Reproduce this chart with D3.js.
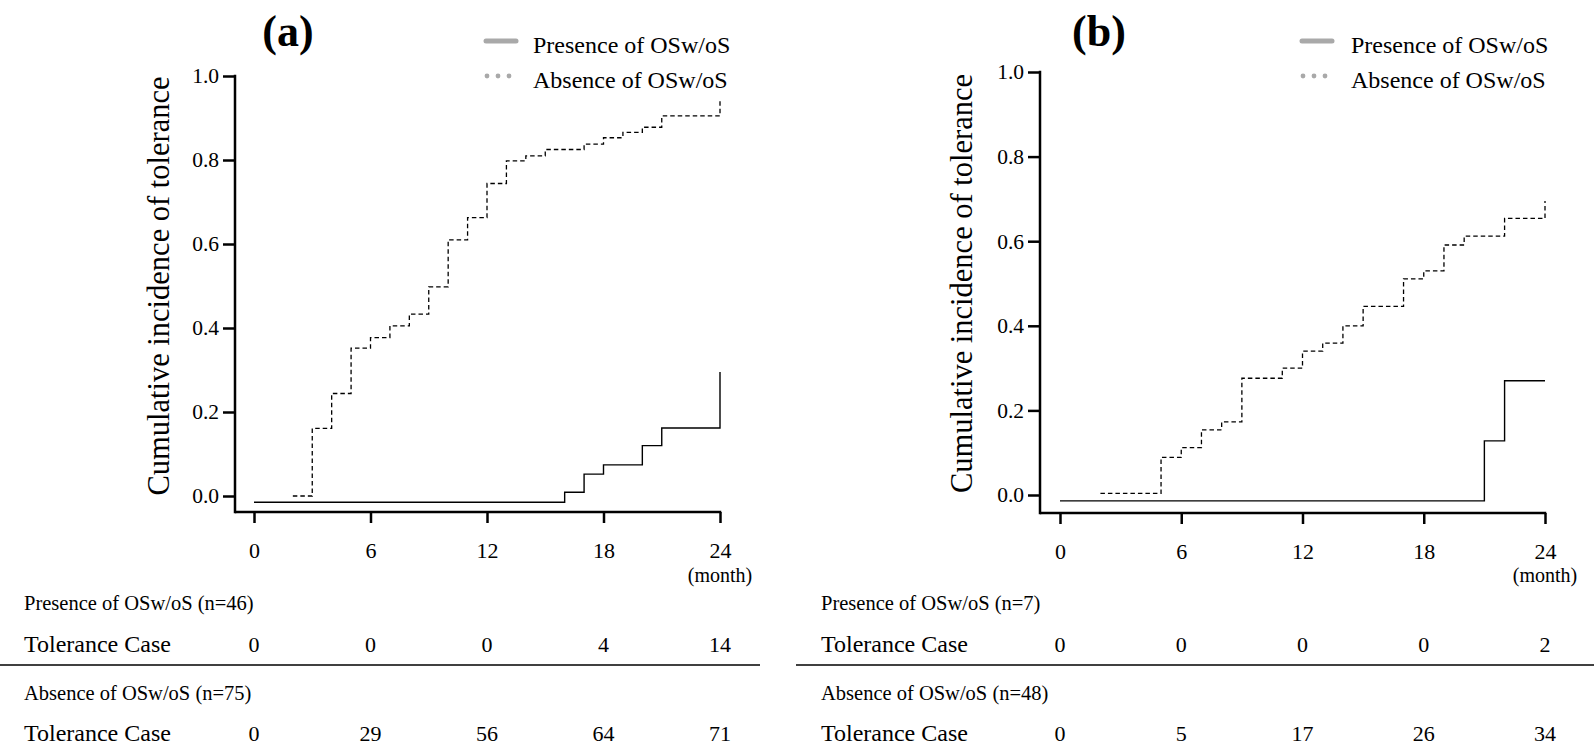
<!DOCTYPE html>
<html><head><meta charset="utf-8">
<script src="https://cdn.jsdelivr.net/npm/d3@7"></script>
<style>
body{margin:0;background:#fff}
svg{display:block}
text{font-family:"Liberation Serif","Times New Roman",serif;fill:#000}
</style>
</head><body>
<svg id="c" width="1594" height="745"></svg>
<script>
// ---------- data ----------
const xTicks = [0, 6, 12, 18, 24];
const yTicks = [0, 0.2, 0.4, 0.6, 0.8, 1.0];
const panelLabels = ["(a)", "(b)"];
const legendLabels = ["Presence of OSw/oS", "Absence of OSw/oS"];
const yTitle = "Cumulative incidence of tolerance";
const rowLabel = "Tolerance Case";
const unitLabel = "(month)";

const aPresT = [0, 16, 17, 18, 20, 21, 24];
const aPresV = [-0.015, 0.009, 0.052, 0.074, 0.120, 0.162, 0.295];
const aAbsT = [2, 3, 4, 5, 6, 7, 8, 9, 10, 11, 12, 13, 14, 15, 17, 18, 19, 20, 21, 24];
const aAbsV = [0, 0.161, 0.244, 0.352, 0.377, 0.405, 0.433, 0.498, 0.610, 0.663, 0.744, 0.798, 0.810, 0.825, 0.838, 0.853, 0.866, 0.878, 0.905, 0.945];

const bPresT = [0, 21, 22, 24];
const bPresV = [-0.014, 0.128, 0.270, 0.270];
const bAbsT = [2, 5, 6, 7, 8, 9, 11, 12, 13, 14, 15, 17, 18, 19, 20, 22, 24];
const bAbsV = [0.004, 0.089, 0.112, 0.154, 0.173, 0.276, 0.300, 0.340, 0.359, 0.400, 0.446, 0.511, 0.530, 0.591, 0.612, 0.654, 0.695];

const aN = [46, 75];
const bN = [7, 48];
const aTablePres = [0, 0, 0, 4, 14];
const aTableAbs = [0, 29, 56, 64, 71];
const bTablePres = [0, 0, 0, 0, 2];
const bTableAbs = [0, 5, 17, 26, 34];

// ---------- layout ----------
const panels = [
  {label: panelLabels[0], presT: aPresT, presV: aPresV, absT: aAbsT, absV: aAbsV, n: aN, tPres: aTablePres, tAbs: aTableAbs,
   axisX: 235, x0: 254, x1: 720, y0: 496, y1: 76, axisY: 512, titleX: 169, labelX: 288,
   legX: 486, legTextX: 533, tableX: 24, lineX0: 0, lineX1: 760},
  {label: panelLabels[1], presT: bPresT, presV: bPresV, absT: bAbsT, absV: bAbsV, n: bN, tPres: bTablePres, tAbs: bTableAbs,
   axisX: 1040, x0: 1060, x1: 1545, y0: 495, y1: 72, axisY: 513, titleX: 972, labelX: 1099,
   legX: 1302, legTextX: 1351, tableX: 821, lineX0: 796, lineX1: 1594}
];

const svg = d3.select("#c");
const legendGray = "#a9a9a9";
const serif = '"Liberation Serif","Times New Roman",serif';

panels.forEach(p => {
  const g = svg.append("g").attr("font-family", serif);
  const x = d3.scaleLinear().domain([0, 24]).range([p.x0, p.x1]);
  const y = d3.scaleLinear().domain([0, 1]).range([p.y0, p.y1]);

  // y axis
  const ya = g.append("g").attr("transform", `translate(${p.axisX},0)`)
    .call(d3.axisLeft(y).tickValues(yTicks).tickFormat(d3.format(".1f")).tickSize(12).tickPadding(4));
  ya.attr("font-family", serif);
  ya.select(".domain").remove();
  ya.selectAll(".tick line").attr("stroke", "#000").attr("stroke-width", 2.5);
  ya.selectAll(".tick text").attr("font-size", 21.5).attr("font-family", serif);
  g.append("line").attr("x1", p.axisX).attr("x2", p.axisX).attr("y1", y(1) - 1.25).attr("y2", p.axisY + 1.25)
    .attr("stroke", "#000").attr("stroke-width", 2.5);

  // x axis
  const xa = g.append("g").attr("transform", `translate(0,${p.axisY})`)
    .call(d3.axisBottom(x).tickValues(xTicks).tickSize(11).tickPadding(19));
  xa.attr("font-family", serif);
  xa.select(".domain").remove();
  xa.selectAll(".tick line").attr("stroke", "#000").attr("stroke-width", 2.5);
  xa.selectAll(".tick text").attr("font-size", 22).attr("font-family", serif);
  g.append("line").attr("x1", p.axisX).attr("x2", x(24) + 1.25).attr("y1", p.axisY).attr("y2", p.axisY)
    .attr("stroke", "#000").attr("stroke-width", 2.5);
  g.append("text").attr("x", x(24)).attr("y", 582).attr("text-anchor", "middle").attr("font-size", 20).text(unitLabel);

  // y title
  g.append("text").attr("transform", `translate(${p.titleX},${(y(0) + y(1)) / 2}) rotate(-90)`)
    .attr("text-anchor", "middle").attr("font-size", 30.5).text(yTitle);

  // panel label
  g.append("text").attr("x", p.labelX).attr("y", 46).attr("text-anchor", "middle")
    .attr("font-size", 44).attr("font-weight", "bold").text(p.label);

  // legend
  g.append("line").attr("x1", p.legX).attr("x2", p.legX + 30).attr("y1", 41).attr("y2", 41)
    .attr("stroke", legendGray).attr("stroke-width", 5).attr("stroke-linecap", "round");
  [0, 1, 2].forEach(i => g.append("circle").attr("cx", p.legX + 1 + i * 11).attr("cy", 76).attr("r", 2.4).attr("fill", legendGray));
  legendLabels.forEach((t, i) => g.append("text").attr("x", p.legTextX).attr("y", 53 + i * 35).attr("font-size", 24).text(t));

  // curves
  const line = d3.line().x(d => x(d[0])).y(d => y(d[1])).curve(d3.curveStepAfter);
  g.append("path").datum(p.absT.map((t, i) => [t, p.absV[i]])).attr("d", line)
    .attr("fill", "none").attr("stroke", "#000").attr("stroke-width", 1.3).attr("stroke-dasharray", "4.5,3");
  g.append("path").datum(p.presT.map((t, i) => [t, p.presV[i]])).attr("d", line)
    .attr("fill", "none").attr("stroke", "#000").attr("stroke-width", 1.4);

  // risk table
  g.append("text").attr("x", p.tableX).attr("y", 610).attr("font-size", 20.5).text(`${legendLabels[0]} (n=${p.n[0]})`);
  g.append("text").attr("x", p.tableX).attr("y", 652).attr("font-size", 24).text(rowLabel);
  p.tPres.forEach((v, i) => g.append("text").attr("x", x(xTicks[i])).attr("y", 652).attr("text-anchor", "middle").attr("font-size", 22).text(v));
  g.append("line").attr("x1", p.lineX0).attr("x2", p.lineX1).attr("y1", 665).attr("y2", 665).attr("stroke", "#000").attr("stroke-width", 1.6);
  g.append("text").attr("x", p.tableX).attr("y", 700).attr("font-size", 20.5).text(`${legendLabels[1]} (n=${p.n[1]})`);
  g.append("text").attr("x", p.tableX).attr("y", 741).attr("font-size", 24).text(rowLabel);
  p.tAbs.forEach((v, i) => g.append("text").attr("x", x(xTicks[i])).attr("y", 741).attr("text-anchor", "middle").attr("font-size", 22).text(v));
});
</script>
</body></html>
